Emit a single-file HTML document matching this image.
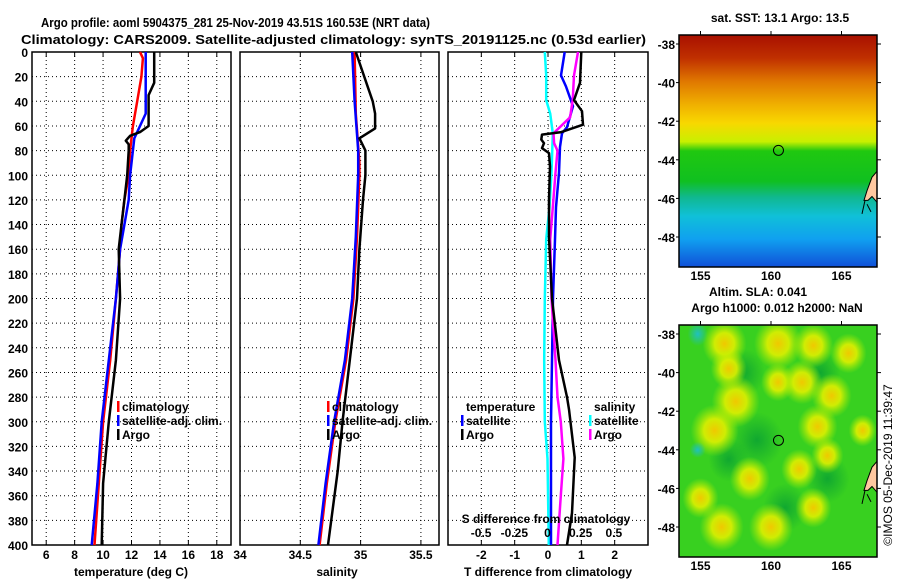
<!DOCTYPE html>
<html><head><meta charset="utf-8"><style>
html,body{margin:0;padding:0;background:#fff}
svg{display:block;font-family:"Liberation Sans",sans-serif;font-weight:bold}
</style></head><body>
<svg id="fig" width="900" height="580" viewBox="0 0 900 580" xmlns="http://www.w3.org/2000/svg">
<defs>
<linearGradient id="sstGrad" x1="0" y1="0" x2="0" y2="1">
<stop offset="0" stop-color="#a81000"/><stop offset="0.1" stop-color="#c03000"/>
<stop offset="0.2" stop-color="#e07800"/><stop offset="0.3" stop-color="#f0b000"/>
<stop offset="0.38" stop-color="#f8d800"/><stop offset="0.46" stop-color="#c8f000"/>
<stop offset="0.5" stop-color="#20c810"/><stop offset="0.63" stop-color="#10c020"/>
<stop offset="0.7" stop-color="#10b890"/><stop offset="0.78" stop-color="#10c0d8"/>
<stop offset="0.88" stop-color="#10a0f0"/><stop offset="1" stop-color="#1050d8"/>
</linearGradient>
<radialGradient id="blob"><stop offset="0" stop-color="#f0c800"/><stop offset="0.45" stop-color="#e0f000" stop-opacity="0.9"/><stop offset="1" stop-color="#b0f000" stop-opacity="0"/></radialGradient>
<radialGradient id="blobD"><stop offset="0" stop-color="#10a830"/><stop offset="1" stop-color="#10a830" stop-opacity="0"/></radialGradient>
<radialGradient id="blobC"><stop offset="0" stop-color="#20c0c0"/><stop offset="1" stop-color="#20c0c0" stop-opacity="0"/></radialGradient>
<clipPath id="clipMap1"><rect x="679" y="35" width="198" height="232"/></clipPath>
<clipPath id="clipMap2"><rect x="679" y="325" width="198" height="232"/></clipPath>
</defs>
<text x="41" y="27" font-size="13" textLength="389" lengthAdjust="spacingAndGlyphs">Argo profile: aoml 5904375_281 25-Nov-2019 43.51S 160.53E (NRT data)</text>
<text x="21" y="44" font-size="13" textLength="625" lengthAdjust="spacingAndGlyphs">Climatology: CARS2009. Satellite-adjusted climatology: synTS_20191125.nc (0.53d earlier)</text>
<g id="panels"></g>
<g id="maps"></g>
</svg>
<script>
// ---- data ----
const depthTicks = [0,20,40,60,80,100,120,140,160,180,200,220,240,260,280,300,320,340,360,380,400];
const tempTicks = [6,8,10,12,14,16,18];
const salTicks = [34,34.5,35,35.5];
const tdiffTicks = [-2,-1,0,1,2];
const sdiffTicks = [-0.5,-0.25,0,0.25,0.5];
const sdiffTickLabels = ["-0.5","-0.25","0","0.25","0.5"];

const climTempDepth = [0,5,20,40,60,80,100,120,140,160,200,250,300,350,400];
const climTemp      = [12.6,12.8,12.7,12.4,12.1,11.9,11.8,11.5,11.3,11.2,10.9,10.5,10.0,9.7,9.4];
const satTempDepth  = [0,40,50,60,70,80,100,120,140,160,200,250,300,350,400];
const satTemp       = [13.0,13.0,13.0,12.6,12.2,12.1,11.9,11.8,11.5,11.2,10.9,10.4,9.9,9.6,9.2];
const argoTempDepth = [0,25,35,60,65,68,72,75,80,100,120,140,160,200,250,300,350,400];
const argoTemp      = [13.6,13.6,13.2,13.2,12.6,11.9,11.6,11.8,11.8,11.7,11.5,11.3,11.1,11.2,10.9,10.4,10.0,9.9];

const climSalDepth = [0,50,90,100,150,200,250,300,350,400];
const climSal      = [34.95,34.96,34.99,34.99,34.97,34.94,34.88,34.79,34.72,34.66];
const satSalDepth  = [0,40,80,100,150,200,250,300,350,400];
const satSal       = [34.93,34.95,34.98,34.98,34.96,34.93,34.87,34.78,34.71,34.65];
const argoSalDepth = [0,40,50,62,70,80,100,120,160,200,250,300,340,400];
const argoSal      = [34.96,35.1,35.12,35.12,34.99,35.04,35.04,35.02,34.99,34.97,34.91,34.85,34.81,34.73];

const argoTdDepth = [0,25,39,48,59,65,67,71,74,78,82,93,120,150,200,250,280,290,329,374,400];
const argoTd      = [1.0,0.96,0.78,1.02,1.05,0.4,-0.18,-0.2,-0.12,-0.18,0.03,0.06,0.03,0.03,0.12,0.33,0.57,0.63,0.8,0.72,0.57];
const satTdDepth  = [0,19,28,44,61,66,77,98,126,152,200,300,400];
const satTd       = [0.5,0.39,0.54,0.75,0.57,0.42,0.36,0.33,0.24,0.21,0.15,0.09,0.09];
const satSdDepth  = [0,19,39,50,66,98,126,152,200,250,300,330,400];
const satSd       = [-0.02,-0.01,-0.01,0.02,0.04,0.03,0.015,-0.01,-0.02,-0.025,-0.02,0.0,0.01];
const argoSdDepth = [0,19,39,53,66,74,80,98,126,152,200,250,280,300,330,360,400];
const argoSd      = [0.23,0.2,0.19,0.17,0.045,0.05,0.075,0.06,0.04,0.02,0.03,0.06,0.075,0.1,0.12,0.1,0.075];

const mapLonTicks = [155,160,165];
const mapLatTicks = [-38,-40,-42,-44,-46,-48];
const floatLon = 160.53, floatLat = -43.51;

// ---- helpers ----
const NS="http://www.w3.org/2000/svg";
const P=document.getElementById('panels'), M=document.getElementById('maps');
function mk(tag,attrs,parent){const e=document.createElementNS(NS,tag);for(const k in attrs)e.setAttribute(k,attrs[k]);(parent||P).appendChild(e);return e;}
const yTop=52, yBot=545;
const yD = d => yTop + d*(yBot-yTop)/400;

function panel(x0,x1,vmin,vmax,ticks,labels,name){
  const xs = v => x0 + (v-vmin)*(x1-x0)/(vmax-vmin);
  const g=mk('g',{});
  
  
  depthTicks.forEach(d=>{ if(d>0&&d<400){const l=mk('line',{x1:x0,x2:x1,y1:yD(d),y2:yD(d),stroke:'#000','stroke-width':1,'stroke-dasharray':'1 3'},g);
    
    }});
  ticks.forEach((t,i)=>{const x=xs(t);
    if(x>x0+1&&x<x1-1){const l=mk('line',{x1:x,x2:x,y1:yTop,y2:yBot,stroke:'#000','stroke-width':1,'stroke-dasharray':'1 3'},g);
      
      }
    mk('line',{x1:x,x2:x,y1:yBot,y2:yBot-5,stroke:'#000'},g);
    mk('line',{x1:x,x2:x,y1:yTop,y2:yTop+5,stroke:'#000'},g);
    if(labels){const tx=mk('text',{x:x,y:yBot+14,'font-size':12,'text-anchor':'middle'},g);tx.textContent=labels[i];
      
      }
  });
  const r=mk('rect',{x:x0,y:yTop,width:x1-x0,height:yBot-yTop,fill:'none',stroke:'#000','stroke-width':1.5},g);
  
  
  return {xs,g};
}
function series(pn,depths,vals,color,name,w){
  let d='';
  vals.forEach((v,i)=>{d+=(i?'L':'M')+pn.xs(v).toFixed(1)+' '+yD(depths[i]).toFixed(1);});
  const p=mk('path',{d:d,fill:'none',stroke:color,'stroke-width':w||2.5,'stroke-linejoin':'round'},pn.g);
  
  
}
function legend(items,x,y,g){
  items.forEach((it,i)=>{
    if(it[1]){const m=mk('rect',{x:x,y:y+i*14-10,width:2.5,height:11,fill:it[1]},g);
      
      }
    const t=mk('text',{x:x+5,y:y+i*14,'font-size':12},g);t.textContent=it[0];
    
    
  });
}
function txt(s,x,y,size,anchor,parent,name){const t=mk('text',{x:x,y:y,'font-size':size,'text-anchor':anchor||'start'},parent);t.textContent=s;
  
  return t;}

depthTicks.forEach(d=>{txt(String(d),28,yD(d)+5,12,'end',P,'y-tick-label');});

const p1=panel(32,231,5,19,tempTicks,tempTicks.map(String),'temperature-panel');
series(p1,climTempDepth,climTemp,'#f00','climatology-temp-line');
series(p1,satTempDepth,satTemp,'#00f','satellite-temp-line');
series(p1,argoTempDepth,argoTemp,'#000','argo-temp-line');
legend([['climatology','#f00'],['satellite-adj. clim.','#00f'],['Argo','#000']],117,411,p1.g);
txt('temperature (deg C)',131,576,12,'middle',P,'x-axis-title-temperature');

const p2=panel(240,439,34,35.65,salTicks,salTicks.map(String),'salinity-panel');
series(p2,climSalDepth,climSal,'#f00','climatology-sal-line');
series(p2,satSalDepth,satSal,'#00f','satellite-sal-line');
series(p2,argoSalDepth,argoSal,'#000','argo-sal-line');
legend([['climatology','#f00'],['satellite-adj. clim.','#00f'],['Argo','#000']],327,411,p2.g);
txt('salinity',337,576,12,'middle',P,'x-axis-title-salinity');

const p3=panel(448,648,-3,3,tdiffTicks,tdiffTicks.map(String),'difference-panel');
const p3s={xs: v=> 547.5 + v*132.7, g:p3.g};
series(p3s,satSdDepth,satSd,'#00ffff','satellite-sal-diff-line');
series(p3,satTdDepth,satTd,'#00f','satellite-temp-diff-line');
series(p3s,argoSdDepth,argoSd,'#ff00ff','argo-sal-diff-line');
series(p3,argoTdDepth,argoTd,'#000','argo-temp-diff-line');
legend([['temperature',null],['satellite','#00f'],['Argo','#000']],461,411,p3.g);
legend([['salinity',null],['satellite','#00ffff'],['Argo','#ff00ff']],589,411,p3.g);
txt('S difference from climatology',546,523,12,'middle',p3.g,'s-diff-axis-title');
sdiffTicks.forEach((v,i)=>txt(sdiffTickLabels[i],p3s.xs(v),537,12,'middle',p3.g,'s-diff-tick-label'));
txt('T difference from climatology',548,576,12,'middle',P,'x-axis-title-tdiff');

// ---- maps ----
const mx0=679,mx1=877;
const lonX = lon => 771 + (lon-160)*14.1;
function mapFrame(y0,lines,fillFn,name,clip){
  const g=mk('g',{},M);
  
  
  const latY = lat => y0+9 + (-38-lat)*19.3;
  const inner=mk('g',{'clip-path':'url(#'+clip+')'},g);
  fillFn(inner,latY);
  const land=mk('path',{d:`M877 ${latY(-44.6)} L872 ${latY(-44.9)} L867 ${latY(-45.6)} L864 ${latY(-46.1)} L868 ${latY(-46.1)} L872 ${latY(-45.9)} L877 ${latY(-46.2)} Z`,fill:'#ffc8a0',stroke:'#000','stroke-width':1},inner);
  
  
  mk('path',{d:`M865 ${latY(-46.1)} L862 ${latY(-46.8)} M867 ${latY(-46.3)} L871 ${latY(-46.7)}`,stroke:'#000',fill:'none'},inner);
  const c=mk('circle',{cx:lonX(floatLon),cy:latY(floatLat),r:5,fill:'none',stroke:'#000','stroke-width':1},g);
  
  
  const fr=mk('rect',{x:mx0,y:y0,width:mx1-mx0,height:232,fill:'none',stroke:'#000','stroke-width':1.5},g);
  
  
  mapLatTicks.forEach(l=>{const y=latY(l);mk('line',{x1:mx1,x2:mx1+4,y1:y,y2:y,stroke:'#000'},g);
    mk('line',{x1:mx0,x2:mx0-3,y1:y,y2:y,stroke:'#000'},g);
    txt(String(l),675,y+5,12,'end',g,'map-lat-label');});
  mapLonTicks.forEach(l=>{const x=lonX(l);mk('line',{x1:x,x2:x,y1:y0,y2:y0-4,stroke:'#000'},g);
    txt(String(l),x,y0+245,12,'middle',g,'map-lon-label');});
  lines.forEach((s,i)=>txt(s[0],s[1],y0-(lines.length-i)*16+3,12,'middle',g,'map-title'));
}
mapFrame(35,[['sat. SST: 13.1 Argo: 13.5',780]],(g,latY)=>{
  mk('rect',{x:mx0,y:35,width:198,height:232,fill:'url(#sstGrad)'},g);
},'sst-map','clipMap1');
mapFrame(325,[['Altim. SLA: 0.041',758],['Argo h1000: 0.012 h2000: NaN',777]],(g,latY)=>{
  mk('rect',{x:mx0,y:325,width:198,height:232,fill:'#38d020'},g);
  const dark=[[158,-40,14],[163.5,-40,12],[159,-43.5,18],[164,-45.5,14],[161,-47,14],[157,-44.5,12]];
  dark.forEach(b=>mk('ellipse',{cx:lonX(b[0]),cy:latY(b[1]),rx:b[2]+8,ry:b[2]+10,fill:'url(#blobD)'},g));
  const blobs=[[156.7,-38.5,16],[157,-39.8,12],[160.5,-38.5,18],[163,-38.6,14],[165.5,-39,12],[157.5,-41.5,18],[156,-43,18],[160.5,-40.5,11],[162.2,-40.5,14],[164.3,-41.2,14],[163.3,-42.8,14],[164,-44.3,10],[162,-45,12],[158.5,-45.5,14],[155,-46.5,12],[156.5,-48,16],[160,-48,16],[163,-47,12],[166.5,-43,8]];
  blobs.forEach(b=>mk('ellipse',{cx:lonX(b[0]),cy:latY(b[1]),rx:b[2]+6,ry:b[2]+8,fill:'url(#blob)'},g));
  mk('ellipse',{cx:lonX(154.8),cy:latY(-38),rx:10,ry:12,fill:'url(#blobC)'},g);
  mk('ellipse',{cx:lonX(154.8),cy:latY(-44),rx:8,ry:8,fill:'url(#blobC)'},g);
},'sla-map','clipMap2');
const stamp=txt('©IMOS 05-Dec-2019 11:39:47',0,0,12,'middle',M,'timestamp');
stamp.setAttribute('transform','translate(892,465) rotate(-90)');
stamp.setAttribute('font-weight','normal');
</script>
</body></html>
